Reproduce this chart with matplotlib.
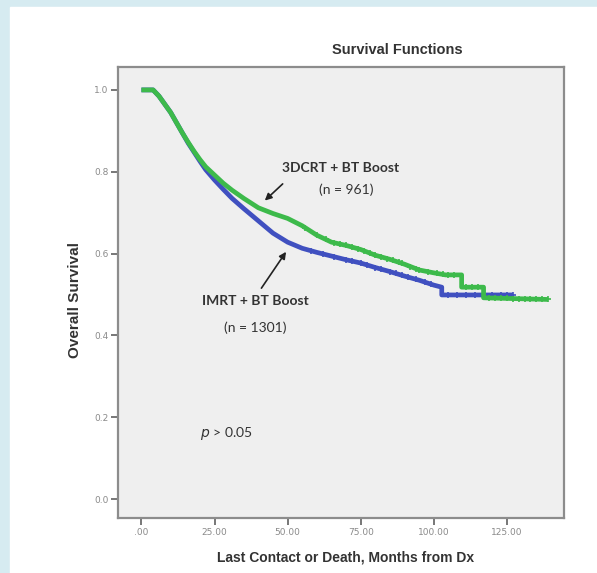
import numpy as np
import matplotlib
matplotlib.use("Agg")
import matplotlib.pyplot as plt
from matplotlib.patches import Rectangle

# Kaplan-Meier curves (months, survival)
t_3dcrt = [0, 4, 6, 8, 10, 12, 14, 16, 18, 20, 22, 25, 28, 31, 35, 40, 45, 50, 55,
           60, 65, 70, 75, 80, 85, 90, 95, 100, 104, 109.5, 109.5, 117, 117, 139]
s_3dcrt = [1.0, 1.0, 0.985, 0.965, 0.945, 0.92, 0.895, 0.872, 0.85, 0.83, 0.812, 0.792,
           0.772, 0.755, 0.735, 0.712, 0.698, 0.686, 0.668, 0.645, 0.628, 0.62, 0.61,
           0.596, 0.586, 0.574, 0.56, 0.553, 0.548, 0.548, 0.518, 0.518, 0.492, 0.488]

t_imrt = [0, 4, 6, 8, 10, 12, 14, 16, 18, 20, 22, 25, 28, 31, 35, 40, 45, 50, 55,
          60, 65, 70, 75, 80, 85, 90, 95, 100, 102.7, 102.7, 127]
s_imrt = [1.0, 1.0, 0.985, 0.965, 0.945, 0.92, 0.895, 0.87, 0.848, 0.826, 0.805, 0.78,
          0.757, 0.735, 0.71, 0.68, 0.65, 0.628, 0.613, 0.603, 0.594, 0.585, 0.577,
          0.566, 0.556, 0.545, 0.535, 0.523, 0.518, 0.499, 0.499]

# censored observations (months)
cens_3dcrt = [56, 60, 63, 66, 68, 70, 72, 74, 76, 78, 80, 82, 84, 86, 88, 89, 92, 94,
              95, 98, 101, 103, 105, 107, 111, 113, 115, 119, 121, 123, 125, 127, 129,
              131, 133, 135, 137, 139]
cens_imrt = [58, 62, 66, 70, 72, 75, 77, 80, 82, 85, 87, 89, 91, 94, 97, 99, 105, 108,
             111, 114, 117, 120, 123, 125, 127]

xticks = [0, 25, 50, 75, 100, 125]
xtick_labels = [".00", "25.00", "50.00", "75.00", "100.00", "125.00"]
yticks = [0.0, 0.2, 0.4, 0.6, 0.8, 1.0]

green = "#3dba4b"
blue = "#4050c0"
grey = "#8a8a8a"

fig = plt.figure(figsize=(5.97, 5.73), dpi=100)
fig.patches.append(Rectangle((0, 0), 1, 1, transform=fig.transFigure,
                             color="#d6ebf1", zorder=-10))
fig.patches.append(Rectangle((10 / 597, 0), 1, 1 - 7 / 573, transform=fig.transFigure,
                             color="white", zorder=-9))

ax = fig.add_axes([118 / 597, 1 - 518 / 573, 446 / 597, 451 / 573])
ax.set_facecolor("#efefef")

ax.plot(t_imrt, s_imrt, color=blue, lw=3.4, solid_capstyle="butt", zorder=3)
ax.plot(t_3dcrt, s_3dcrt, color=green, lw=3.4, solid_capstyle="butt", zorder=4)
ax.plot(cens_imrt, np.interp(cens_imrt, t_imrt, s_imrt), ls="none", marker="+",
        ms=5, mew=1.2, color=blue, zorder=3)
ax.plot(cens_3dcrt, np.interp(cens_3dcrt, t_3dcrt, s_3dcrt), ls="none", marker="+",
        ms=5, mew=1.2, color=green, zorder=4)

ax.set_xlim(-8, 144.5)
ax.set_ylim(-0.046, 1.056)
ax.set_xticks(xticks)
ax.set_xticklabels(xtick_labels)
ax.set_yticks(yticks)
ax.set_yticklabels([f"{v:.1f}" for v in yticks])
ax.tick_params(direction="out", length=5, width=1.2, color="#606060",
               labelsize=6.5, labelcolor=grey, pad=2)
for sp in ax.spines.values():
    sp.set_color("#8c8c8c")
    sp.set_linewidth(1.6)

fig.text(397 / 597, 1 - 50 / 573, "Survival Functions", ha="center", va="center",
         fontsize=10.5, fontweight="bold", color="#333333", family="Liberation Sans")
fig.text(346 / 597, 1 - 558 / 573, "Last Contact or Death, Months from Dx",
         ha="center", va="center", fontsize=10, fontweight="bold", color="#333333",
         family="Liberation Sans")
fig.text(75 / 597, 1 - 300 / 573, "Overall Survival", ha="center", va="center",
         rotation=90, fontsize=11, fontweight="bold", color="#333333",
         family="Liberation Sans")

ann = dict(ha="center", va="center", fontsize=10, color="#333333", family="Lato")
ax.text(68, 0.81, "3DCRT + BT Boost", fontweight="bold", **ann)
ax.text(70, 0.755, "(n = 961)", **ann)
ax.text(39, 0.485, "IMRT + BT Boost", fontweight="bold", **ann)
ax.text(39, 0.42, "(n = 1301)", **ann)
ax.text(29, 0.16, r"$p$ > 0.05", **ann)

arrow = dict(arrowstyle="-|>", color="#222222", lw=1.2, mutation_scale=10)
ax.annotate("", xy=(41.5, 0.725), xytext=(49, 0.775), arrowprops=arrow)
ax.annotate("", xy=(50, 0.61), xytext=(40.5, 0.51), arrowprops=arrow)

fig.savefig("out.png", dpi=100)
